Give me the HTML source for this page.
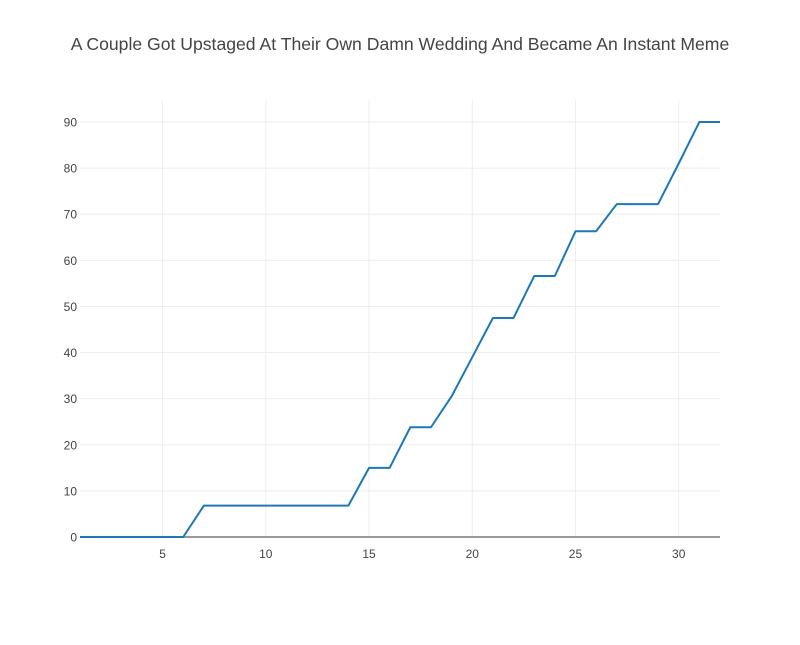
<!DOCTYPE html>
<html><head><meta charset="utf-8">
<style>
body{margin:0;background:#fff;font-family:"Liberation Sans",sans-serif;}
svg text{font-family:"Liberation Sans",sans-serif;fill:#444;}
</style></head>
<body>
<svg id="chart" width="800" height="640">
<text x="400" y="50" text-anchor="middle" font-size="17.6">A Couple Got Upstaged At Their Own Damn Wedding And Became An Instant Meme</text>
<g id="grid"></g><g id="ticks"></g><g id="series"></g>
</svg>
<script>
const xValues=[1,2,3,4,5,6,7,8,9,10,11,12,13,14,15,16,17,18,19,20,21,22,23,24,25,26,27,28,29,30,31,32];
const yValues=[0,0,0,0,0,0,6.8,6.8,6.8,6.8,6.8,6.8,6.8,6.8,15,15,23.8,23.8,30.5,39,47.5,47.5,56.6,56.6,66.3,66.3,72.2,72.2,72.2,81,90,90];
const xTicks=[5,10,15,20,25,30];
const yTicks=[0,10,20,30,40,50,60,70,80,90];
const ns="http://www.w3.org/2000/svg";
const X0=80,X1=720,Y0=537,Y90=122;
function sx(v){return X0+(v-1)/(32-1)*(X1-X0);}
function sy(v){return Y0+(v/90)*(Y90-Y0);}
function mk(tag,attrs,parent){const e=document.createElementNS(ns,tag);for(const k in attrs)e.setAttribute(k,attrs[k]);parent.appendChild(e);return e;}
const grid=document.getElementById('grid'),ticks=document.getElementById('ticks'),ser=document.getElementById('series');
xTicks.forEach(t=>{
  const l=mk('line',{x1:sx(t),x2:sx(t),y1:100,y2:537,stroke:'#eee','stroke-width':1},grid);
  
  
  const tx=mk('text',{x:sx(t),y:546+12,'text-anchor':'middle','font-size':12},ticks);
  tx.textContent=t;
  
  
});
yTicks.forEach(t=>{
  if(t!==0){
    const l=mk('line',{x1:X0,x2:X1,y1:sy(t),y2:sy(t),stroke:'#eee','stroke-width':1},grid);
    
    
  }
  const tx=mk('text',{x:77,y:sy(t)+4.5,'text-anchor':'end','font-size':12},ticks);
  tx.textContent=t;
  
  
});
const zl=mk('line',{x1:X0,x2:X1,y1:sy(0),y2:sy(0),stroke:'#999','stroke-width':2},grid);


const pts=xValues.map((x,i)=>sx(x)+','+sy(yValues[i])).join(' ');
const pl=mk('polyline',{points:pts,fill:'none',stroke:'#1f77b4','stroke-width':2,'stroke-linejoin':'round'},ser);


</script>
</body></html>
